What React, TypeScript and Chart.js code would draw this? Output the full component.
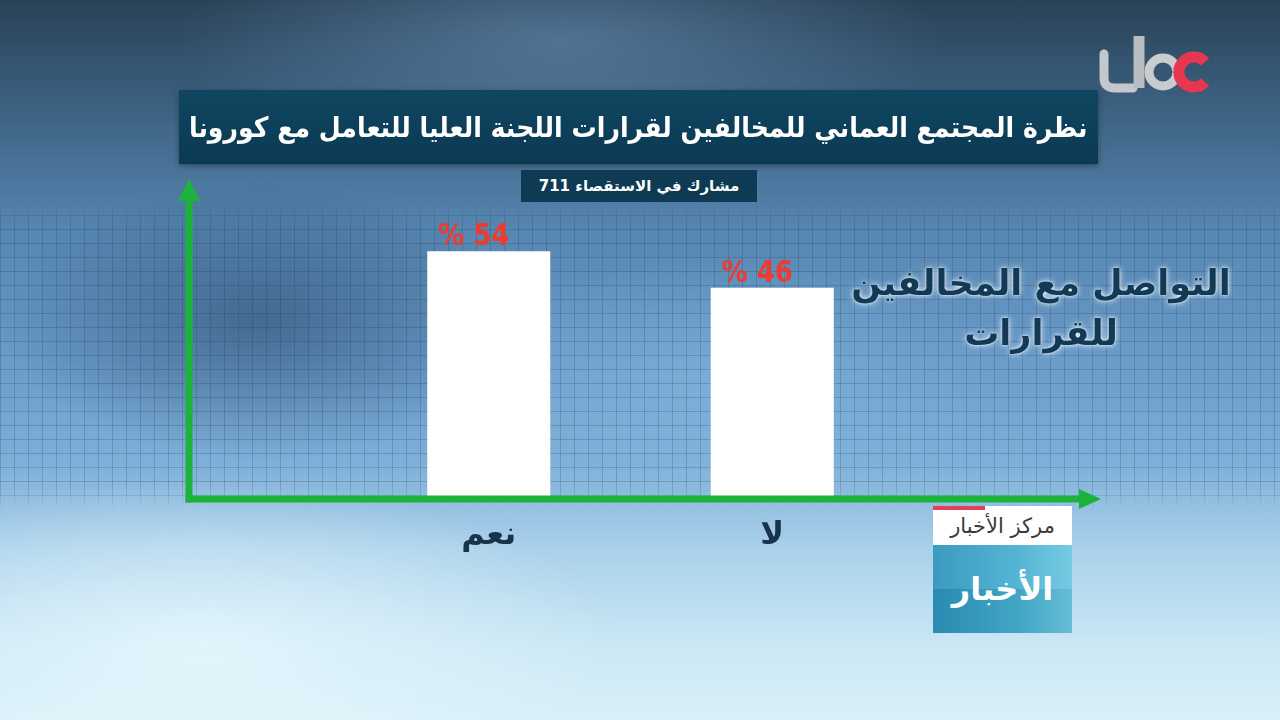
import React, { useEffect, useRef } from "react";
import { Chart, registerables } from "chart.js";

Chart.register(...registerables);

const categories = ["نعم", "لا"];
const values = [54, 46];
const valueLabels = ["% 54", "% 46"];
const yMax = 60;
const titleText = "نظرة المجتمع العماني للمخالفين لقرارات اللجنة العليا للتعامل مع كورونا";
const subtitleText = "مشارك في الاستقصاء 711";
const sideLines = ["التواصل مع المخالفين", "للقرارات"];
const newsTop = "مركز الأخبار";
const newsBottom = "الأخبار";

const FONT = "'DejaVu Sans', sans-serif";
const GREEN = "#1db33a";

const arrowsPlugin = {
  id: "arrows",
  afterDatasetsDraw(chart: any) {
    const { ctx, chartArea } = chart;
    const yb = chartArea.bottom + 2;
    const xa = 189;
    ctx.save();
    ctx.strokeStyle = GREEN;
    ctx.fillStyle = GREEN;
    ctx.lineWidth = 7;
    ctx.beginPath();
    ctx.moveTo(xa, yb + 3.5);
    ctx.lineTo(xa, 198);
    ctx.stroke();
    ctx.beginPath();
    ctx.moveTo(xa, 179);
    ctx.lineTo(xa - 11, 201);
    ctx.lineTo(xa + 11, 201);
    ctx.closePath();
    ctx.fill();
    ctx.beginPath();
    ctx.moveTo(xa - 3.5, yb);
    ctx.lineTo(1082, yb);
    ctx.stroke();
    ctx.beginPath();
    ctx.moveTo(1101, yb);
    ctx.lineTo(1079, yb - 10);
    ctx.lineTo(1079, yb + 10);
    ctx.closePath();
    ctx.fill();
    ctx.restore();
  },
};

const valueLabelPlugin = {
  id: "valueLabels",
  afterDatasetsDraw(chart: any) {
    const { ctx } = chart;
    const meta = chart.getDatasetMeta(0);
    ctx.save();
    ctx.font = `bold 29px ${FONT}`;
    ctx.fillStyle = "#ef3b2d";
    ctx.textAlign = "center";
    ctx.textBaseline = "alphabetic";
    meta.data.forEach((bar: any, i: number) => {
      ctx.save();
      ctx.translate(bar.x - 15, bar.y - 6);
      ctx.scale(0.9, 1.05);
      ctx.fillText(valueLabels[i], 0, 0);
      ctx.restore();
    });
    ctx.restore();
  },
};

function BarChart() {
  const ref = useRef<HTMLCanvasElement | null>(null);
  useEffect(() => {
    if (!ref.current) return;
    const chart = new Chart(ref.current, {
      type: "bar",
      data: {
        labels: categories,
        datasets: [
          {
            data: values,
            backgroundColor: "#ffffff",
            borderWidth: 0,
            barPercentage: 0.434,
            categoryPercentage: 1,
          },
        ],
      },
      options: {
        responsive: false,
        maintainAspectRatio: false,
        animation: false,
        layout: { padding: { left: 347, right: 366, top: 224, bottom: 146.6 } },
        plugins: {
          legend: { display: false },
          tooltip: { enabled: false },
        },
        scales: {
          x: {
            grid: { display: false, drawTicks: false },
            border: { display: false },
            ticks: {
              color: "#17344c",
              font: { family: FONT, size: 32, weight: "bold" },
              padding: 19,
            },
          },
          y: { display: false, min: 0, max: yMax },
        },
      },
      plugins: [arrowsPlugin, valueLabelPlugin],
    } as any);
    return () => chart.destroy();
  }, []);
  return (
    <canvas
      ref={ref}
      width={1280}
      height={720}
      style={{ position: "absolute", left: 0, top: 0, width: 1280, height: 720 }}
    />
  );
}

function Logo() {
  return (
    <svg
      width={130}
      height={70}
      style={{ position: "absolute", left: 1093, top: 28 }}
    >
      <path d="M11 26 L11 50 Q11 60 22 60 L40 60" stroke="#c4c8cb" strokeWidth={9} fill="none" strokeLinecap="round" />
      <path d="M46 8 L46 60" stroke="#b9bdc0" strokeWidth={11} fill="none" />
      <circle cx={70} cy={44} r={14} stroke="#c8ccce" strokeWidth={9} fill="none" />
      <path d="M112 34 A15 15 0 1 0 112 54" stroke="#e8364f" strokeWidth={11} fill="none" />
    </svg>
  );
}

export default function App() {
  return (
    <div
      style={{
        position: "fixed",
        left: 0,
        top: 0,
        width: 1280,
        height: 720,
        overflow: "hidden",
        fontFamily: FONT,
        background:
          "radial-gradient(ellipse 260px 140px at 260px 320px, rgba(40,72,104,0.55), rgba(40,72,104,0) 100%)," +
          "radial-gradient(ellipse 300px 120px at 720px 380px, rgba(150,200,235,0.35), rgba(150,200,235,0) 100%)," +
          "radial-gradient(ellipse 380px 120px at 560px 40px, rgba(120,160,200,0.45), rgba(120,160,200,0) 100%)," +
          "radial-gradient(ellipse 420px 160px at 200px 640px, rgba(235,250,255,0.7), rgba(235,250,255,0) 100%)," +
          "linear-gradient(180deg, #2a4257 0%, #3b5f7e 14%, #5686b1 32%, #6a9bc9 50%, #7eafd8 64%, #a9d0ea 76%, #cbe8f5 90%, #d9f0f8 100%)",
      }}
    >
      <div
        style={{
          position: "absolute",
          left: 0,
          top: 200,
          width: 1280,
          height: 310,
          backgroundImage:
            "repeating-linear-gradient(0deg, rgba(25,55,85,0.22) 0px, rgba(25,55,85,0.22) 1px, transparent 1px, transparent 14px)," +
            "repeating-linear-gradient(90deg, rgba(25,55,85,0.22) 0px, rgba(25,55,85,0.22) 1px, transparent 1px, transparent 14px)",
          WebkitMaskImage: "linear-gradient(180deg, rgba(0,0,0,0) 0%, #000 8%, #000 92%, rgba(0,0,0,0) 100%)",
          maskImage: "linear-gradient(180deg, rgba(0,0,0,0) 0%, #000 8%, #000 92%, rgba(0,0,0,0) 100%)",
        }}
      />
      <BarChart />
      <div
        dir="rtl"
        style={{
          position: "absolute",
          left: 179,
          top: 90,
          width: 919,
          height: 74,
          background: "linear-gradient(180deg, #104661 0%, #0b3953 100%)",
          boxShadow: "0 2px 6px rgba(0,0,0,0.35)",
          color: "#ffffff",
          fontWeight: "bold",
          fontSize: 28,
          display: "flex",
          alignItems: "center",
          justifyContent: "center",
          whiteSpace: "nowrap",
        }}
      >
        <span style={{ display: "inline-block", transform: "scaleX(0.9)" }}>{titleText}</span>
      </div>
      <div
        dir="rtl"
        style={{
          position: "absolute",
          left: 521,
          top: 170,
          width: 236,
          height: 32,
          background: "#0e3a54",
          color: "#ffffff",
          fontWeight: "bold",
          fontSize: 15,
          display: "flex",
          alignItems: "center",
          justifyContent: "center",
          whiteSpace: "nowrap",
        }}
      >
        {subtitleText}
      </div>
      <div
        dir="rtl"
        style={{
          position: "absolute",
          left: 840,
          top: 258,
          width: 402,
          textAlign: "center",
          color: "#123a56",
          fontWeight: "bold",
          fontSize: 35,
          lineHeight: "50px",
          textShadow: "0 0 6px rgba(255,255,255,0.9), 0 0 2px rgba(255,255,255,0.9)",
          whiteSpace: "nowrap",
        }}
      >
        {sideLines.map((l, i) => (
          <div key={i}>{l}</div>
        ))}
      </div>
      <div style={{ position: "absolute", left: 933, top: 506, width: 139, height: 127 }}>
        <div
          dir="rtl"
          style={{
            position: "absolute",
            left: 0,
            top: 0,
            width: 139,
            height: 39,
            background: "#ffffff",
            color: "#3a3a3a",
            fontSize: 21,
            display: "flex",
            alignItems: "center",
            justifyContent: "center",
            whiteSpace: "nowrap",
          }}
        >
          {newsTop}
        </div>
        <div style={{ position: "absolute", left: 0, top: 0, width: 52, height: 4, background: "#e0405a" }} />
        <div
          dir="rtl"
          style={{
            position: "absolute",
            left: 0,
            top: 39,
            width: 139,
            height: 88,
            background:
              "linear-gradient(180deg, rgba(255,255,255,0.08) 0%, rgba(255,255,255,0.08) 50%, rgba(0,0,0,0.05) 50%, rgba(0,0,0,0.05) 100%), linear-gradient(90deg, #2b92bb 0%, #45aed0 60%, #6cc6df 100%)",
            color: "#ffffff",
            fontWeight: "bold",
            fontSize: 32,
            display: "flex",
            alignItems: "center",
            justifyContent: "center",
            whiteSpace: "nowrap",
          }}
        >
          {newsBottom}
        </div>
      </div>
      <Logo />
    </div>
  );
}
